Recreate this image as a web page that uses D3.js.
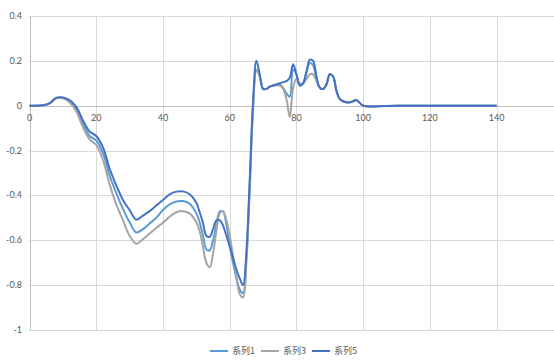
<!DOCTYPE html>
<html>
<head>
  <meta charset="utf-8">
  <title>系列 chart</title>
  <script src="https://d3js.org/d3.v7.min.js"></script>
  <style>
    body { margin: 0; background: #fff; }
    .tick-label { font-family: Lato, "Liberation Sans", sans-serif; font-size: 9px; fill: #595959; }
    .legend-text { font-family: "Noto Sans CJK SC", sans-serif; font-size: 9px; fill: #595959; }
  </style>
</head>
<body>
<div id="chart"></div>
<script>
// x positions of the points
var xs = [0,2,4,6,8,10,12,14,16,18,20,22,24,26,28,30,32,34,36,38,40,42,44,46,48,50,
  51,52,53,54,55,56,57,58,59,60,61,62,63,64,65,66,67,68,69,70,71,72,73,74,75,
  76,77,78,79,80,81,82,83,84,85,86,87,88,89,90,91,92,93,94,95,96,97,98,99,100,
  110,120,130,140];

var s1 = [0,0,0.002,0.01,0.035,0.035,0.02,-0.015,-0.08,-0.135,-0.155,-0.21,-0.31,-0.39,-0.46,-0.52,-0.565,-0.55,-0.525,-0.5,-0.465,-0.44,-0.427,-0.425,-0.437,-0.48,
  -0.52,-0.58,-0.64,-0.645,-0.6,-0.53,-0.472,-0.472,-0.53,-0.62,-0.7,-0.77,-0.82,-0.835,-0.68,-0.35,0.0,0.16,0.13,0.075,0.075,0.085,0.09,0.095,0.095,
  0.08,0.055,0.04,0.16,0.14,0.09,0.1,0.15,0.19,0.18,0.12,0.08,0.075,0.095,0.14,0.13,0.065,0.03,0.02,0.015,0.015,0.02,0.025,0.012,0,
  0,0,0,0];

var s3 = [0,0,0.002,0.01,0.033,0.033,0.015,-0.025,-0.095,-0.15,-0.175,-0.24,-0.35,-0.44,-0.51,-0.58,-0.615,-0.595,-0.57,-0.545,-0.522,-0.495,-0.475,-0.47,-0.48,-0.52,
  -0.56,-0.63,-0.7,-0.72,-0.66,-0.56,-0.48,-0.47,-0.51,-0.58,-0.67,-0.76,-0.84,-0.855,-0.7,-0.38,-0.02,0.16,0.13,0.075,0.075,0.085,0.09,0.09,0.09,
  0.075,0.03,-0.05,0.08,0.12,0.1,0.1,0.12,0.14,0.14,0.11,0.08,0.075,0.095,0.14,0.13,0.065,0.03,0.02,0.015,0.015,0.02,0.025,0.012,0,
  0,0,0,0];

var s5 = [0,0,0.002,0.01,0.035,0.037,0.025,-0.005,-0.065,-0.115,-0.135,-0.185,-0.28,-0.355,-0.42,-0.465,-0.508,-0.49,-0.47,-0.445,-0.42,-0.395,-0.383,-0.382,-0.395,-0.433,
  -0.475,-0.523,-0.58,-0.585,-0.55,-0.512,-0.51,-0.535,-0.58,-0.627,-0.68,-0.73,-0.77,-0.8,-0.65,-0.33,0.02,0.2,0.14,0.075,0.075,0.085,0.09,0.095,0.1,
  0.105,0.11,0.125,0.185,0.14,0.09,0.1,0.15,0.205,0.2,0.13,0.08,0.075,0.095,0.14,0.13,0.065,0.03,0.02,0.015,0.015,0.02,0.025,0.012,0,
  0,0,0,0];

var seriesNames = ["系列1", "系列3", "系列5"];
var seriesColors = ["#5b9bd5", "#a5a5a5", "#4472c4"];
var xTicks = [0, 20, 40, 60, 80, 100, 120, 140];
var yTicks = [0.4, 0.2, 0, -0.2, -0.4, -0.6, -0.8, -1];

var width = 554, height = 363;

var svg = d3.select("#chart").append("svg")
  .attr("width", width)
  .attr("height", height);

var x = d3.scaleLinear().domain([0, 160]).range([29.5, 563.4]);
var y = d3.scaleLinear().domain([-1, 0.4]).range([330, 16]);

// gridlines
svg.selectAll(".hgrid").data(yTicks).enter().append("line")
  .attr("x1", x(0)).attr("x2", width)
  .attr("y1", function(d) { return Math.round(y(d)) + 0.5; })
  .attr("y2", function(d) { return Math.round(y(d)) + 0.5; })
  .attr("stroke", "#d9d9d9").attr("stroke-width", 1);

svg.selectAll(".vgrid").data(xTicks.slice(1)).enter().append("line")
  .attr("y1", y(0.4)).attr("y2", y(-1))
  .attr("x1", function(d) { return Math.round(x(d)) + 0.5; })
  .attr("x2", function(d) { return Math.round(x(d)) + 0.5; })
  .attr("stroke", "#d9d9d9").attr("stroke-width", 1);

// axis lines
svg.append("line")
  .attr("x1", Math.round(x(0)) + 0.5).attr("x2", Math.round(x(0)) + 0.5)
  .attr("y1", y(0.4)).attr("y2", y(-1))
  .attr("stroke", "#bfbfbf");
svg.append("line")
  .attr("x1", x(0)).attr("x2", width)
  .attr("y1", Math.round(y(0)) + 0.5).attr("y2", Math.round(y(0)) + 0.5)
  .attr("stroke", "#bfbfbf");

// tick labels
svg.selectAll(".ylab").data(yTicks).enter().append("text")
  .attr("class", "tick-label")
  .attr("x", 22)
  .attr("y", function(d) { return y(d) + 3; })
  .attr("text-anchor", "end")
  .text(function(d) { return d; });

svg.selectAll(".xlab").data(xTicks).enter().append("text")
  .attr("class", "tick-label")
  .attr("x", function(d) { return x(d); })
  .attr("y", y(0) + 15)
  .attr("text-anchor", "middle")
  .text(function(d) { return d; });

// series lines
var line = d3.line()
  .x(function(d) { return x(d[0]); })
  .y(function(d) { return y(d[1]); })
  .curve(d3.curveCatmullRom.alpha(0.5));

var all = [s1, s3, s5];
all.forEach(function(s, i) {
  svg.append("path")
    .datum(xs.map(function(v, j) { return [v, s[j]]; }))
    .attr("fill", "none")
    .attr("stroke", seriesColors[i])
    .attr("stroke-width", 2)
    .attr("stroke-linejoin", "round")
    .attr("d", line);
});

// legend
var legendX = [210, 261, 312];
var lg = svg.selectAll(".legend").data(seriesNames).enter().append("g")
  .attr("transform", function(d, i) { return "translate(" + legendX[i] + ",351)"; });
lg.append("line")
  .attr("x1", 0).attr("x2", 18).attr("y1", 0).attr("y2", 0)
  .attr("stroke", function(d, i) { return seriesColors[i]; })
  .attr("stroke-width", 2);
lg.append("text")
  .attr("class", "legend-text")
  .attr("x", 22).attr("y", 3)
  .text(function(d) { return d; });
</script>
</body>
</html>
